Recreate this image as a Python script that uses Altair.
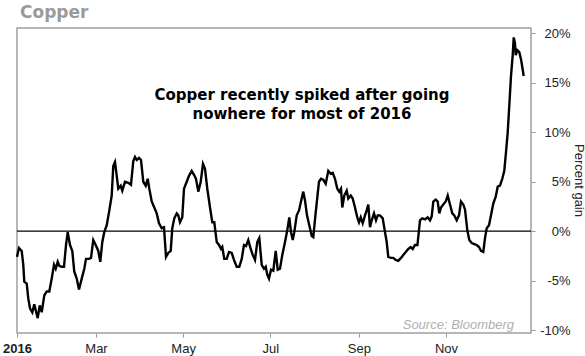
import altair as alt
import pandas as pd

# Day of 2016 (0 = Jan 1) and percent gain
day = [4.7, 6.1, 8.0, 9.1, 9.8, 11.5, 12.6, 13.8, 15.4, 16.8, 18.0, 19.2, 20.6, 22.0, 23.8, 25.5, 27.3, 29.0, 30.6, 31.8,
       33.2, 34.3, 36.0, 37.6, 39.0, 40.2, 41.8, 43.4, 44.8, 46.5, 48.1, 50.0, 51.8, 53.0, 55.1, 56.5, 58.1, 59.8, 61.6, 63.0,
       64.4, 65.8, 67.5, 69.1, 71.0, 72.1, 73.3, 74.5, 75.6, 77.3, 78.4, 80.3, 82.6, 84.5, 86.1, 87.3, 88.5, 90.1, 91.5, 93.1,
       94.8, 96.2, 97.3, 99.0, 100.8, 102.5, 104.1, 106.0, 107.6, 109.0, 110.6, 112.3, 113.4, 114.8, 116.5, 117.6, 118.8, 120.4,
       121.6, 123.5, 125.1, 127.0, 128.6, 130.0, 131.6, 133.3, 134.9, 136.3, 137.9, 139.8, 141.4, 142.8, 144.5, 146.1, 147.5,
       148.4, 149.8, 151.5, 153.1, 155.0, 156.6, 158.5, 160.3, 162.0, 163.6, 165.0, 166.6, 168.3, 169.7, 171.3, 172.9, 174.3,
       176.0, 177.6, 178.8, 179.9, 181.1, 182.5, 184.1, 185.8, 187.2, 188.8, 190.4, 192.3, 193.9, 195.3, 196.5, 197.7, 198.8,
       200.5, 202.1, 203.5, 205.1, 206.3, 207.7, 209.3, 211.0, 212.1, 213.8, 215.2, 216.1, 217.5, 219.1, 220.8, 222.6, 224.3,
       225.7, 227.3, 228.9, 230.3, 231.5, 232.4, 233.8, 235.5, 236.6, 238.3, 239.7, 241.3, 242.9, 244.1, 245.3, 246.7, 248.3,
       249.5, 250.6, 251.8, 253.0, 254.6, 256.0, 257.2, 258.8, 260.7, 262.3, 263.5, 264.6, 266.5, 268.1, 269.8, 271.6, 273.5,
       275.1, 276.8, 278.6, 280.3, 281.7, 283.3, 285.0, 286.8, 288.4, 290.3, 292.2, 293.8, 295.0, 296.1, 297.8, 299.2, 300.3,
       301.5, 303.1, 304.8, 306.2, 307.8, 309.4, 310.8, 312.5, 314.1, 315.5, 317.1, 318.3, 319.9, 321.3, 323.0, 324.8, 326.5,
       328.1, 329.5, 331.1, 332.3, 333.5, 335.1, 336.5, 338.1, 339.8, 341.2, 342.8, 344.4, 345.8, 347.0, 348.2, 349.3, 350.5,
       351.7, 352.4, 353.3, 353.8, 354.9, 356.3, 357.5, 358.4, 359.4]
gain = [-2.6, -1.7, -2.0, -3.4, -5.1, -5.3, -6.8, -7.8, -8.2, -7.4, -8.1, -8.8, -7.5, -8.2, -6.5, -6.1, -6.1, -4.8, -3.4, -3.8,
        -3.1, -3.5, -3.6, -3.6, -1.4, -0.1, -1.4, -2.0, -4.1, -4.8, -5.9, -4.8, -3.8, -2.8, -2.8, -2.7, -0.9, -1.4, -2.0, -3.1,
        -1.1, -0.1, 0.6, 1.9, 3.6, 6.6, 7.0, 5.6, 4.3, 4.6, 4.1, 5.0, 4.9, 4.7, 7.1, 7.5, 7.2, 7.4, 7.2, 5.0,
        4.6, 5.3, 4.3, 3.0, 2.4, 1.8, 0.8, 0.3, 0.4, -2.6, -2.2, -2.0, 0.3, 1.3, 1.8, 1.6, 0.9, 1.4,
        4.3, 5.0, 5.6, 6.1, 5.7, 5.3, 4.0, 5.0, 6.8, 6.3, 4.3, 2.4, 0.9, 0.9, -1.1, -1.4, -1.8,
        -1.6, -2.8, -2.8, -2.1, -2.2, -2.9, -3.6, -3.6, -2.8, -1.4, -1.5, -0.9, -1.8, -2.4, -2.9, -1.1, -0.7,
        -3.4, -3.8, -3.6, -4.4, -4.8, -3.9, -4.0, -2.0, -3.9, -3.8, -2.4, -1.1, 0.1, 1.4, -0.1, -0.9, -0.1,
        1.6, 2.1, 3.0, 4.0, 3.1, 1.6, 0.6, -0.5, -0.6, 1.9, 3.8, 5.0, 5.3, 5.2, 4.8, 6.1, 5.8,
        5.9, 5.3, 4.3, 4.0, 4.3, 2.4, 3.6, 4.1, 3.3, 3.6, 3.3, 2.4, 1.4, 0.9, 1.4, 0.8, 1.6,
        2.1, 2.7, 0.4, 1.1, 1.8, 1.1, 1.6, 1.6, 1.3, -0.1, -1.1, -2.6, -2.7, -2.7, -2.9, -3.0, -2.7,
        -2.4, -2.1, -1.8, -1.6, -1.8, -1.4, -1.4, 1.1, 1.3, 1.2, 1.4, 1.1, 1.5, 3.0, 3.2, 3.0, 1.8,
        2.4, 2.7, 3.0, 3.6, 2.7, 1.8, 1.6, 1.1, 1.6, 3.0, 2.7, 2.2, 0.1, -0.9, -1.2, -1.3, -1.4,
        -1.6, -2.0, -2.1, -0.7, 0.3, 0.6, 1.6, 2.8, 3.5, 4.5, 4.6, 5.3, 6.1, 8.0, 10.0, 12.7, 15.7,
        17.8, 19.6, 19.0, 17.8, 18.3, 18.1, 17.4, 16.6, 15.7]

tick_days = [4.7, 60, 121, 182, 244, 305]
tick_names = ["2016", "Mar", "May", "Jul", "Sep", "Nov"]
y_ticks = [-10, -5, 0, 5, 10, 15, 20]

title_text = "Copper"
note_text = "Copper recently spiked after going\nnowhere for most of 2016"
source_text = "Source: Bloomberg"

df = pd.DataFrame({"day": day, "gain": gain})

label_expr = (
    "datum.value < 30 ? '2016' : datum.value < 90 ? 'Mar' : datum.value < 150 ? 'May' : "
    "datum.value < 210 ? 'Jul' : datum.value < 270 ? 'Sep' : 'Nov'"
)

x_enc = alt.X(
    "day:Q",
    scale=alt.Scale(domain=[4.7, 364.5], nice=False, zero=False),
    axis=alt.Axis(
        values=tick_days, labelExpr=label_expr, title=None, grid=False, domain=False,
        tickColor="#999999", tickSize=4, tickWidth=1, labelPadding=5,
        labelFont="Liberation Sans", labelFontSize=13, labelColor="#222222",
        labelFontWeight=alt.condition("datum.value < 30", alt.value("bold"), alt.value("normal")),
        labelOverlap=False, labelFlush=False,
    ),
)
y_enc = alt.Y(
    "gain:Q",
    scale=alt.Scale(domain=[-10.3, 20.55], nice=False, zero=False),
    axis=alt.Axis(
        orient="right", values=y_ticks, labelExpr="datum.value + '%'", grid=False, domain=False,
        tickColor="#999999", tickSize=4, labelPadding=35, labelAlign="right",
        labelFont="Liberation Sans", labelFontSize=13, labelColor="#222222",
        title="Percent gain", titleFont="Liberation Sans", titleFontSize=13, titleFontWeight="normal",
        titleColor="#222222", titleAngle=90, titleX=43, titleY=152, titleAlign="center",
        titleBaseline="alphabetic",
    ),
)

line = alt.Chart(df).mark_line(color="black", strokeWidth=2.4).encode(x=x_enc, y=y_enc)

zero = alt.Chart(pd.DataFrame({"gain": [0]})).mark_rule(color="black", strokeWidth=1.3).encode(y="gain:Q")

title = alt.Chart(pd.DataFrame({"t": [title_text]})).mark_text(
    align="left", baseline="alphabetic", font="DejaVu Sans", fontSize=17, fontWeight="bold", color="#9a9a9a"
).encode(text="t:N", x=alt.value(3), y=alt.value(-10))

note = alt.Chart(pd.DataFrame({"t": [note_text]})).mark_text(
    align="center", baseline="alphabetic", font="DejaVu Sans", fontSize=15, fontWeight="bold",
    color="black", lineBreak="\n", lineHeight=19
).encode(text="t:N", x=alt.value(285), y=alt.value(72))

source = alt.Chart(pd.DataFrame({"t": [source_text]})).mark_text(
    align="right", baseline="alphabetic", font="Liberation Sans", fontSize=13, fontStyle="italic", color="#b0b0b0"
).encode(text="t:N", x=alt.value(497), y=alt.value(301))

chart = alt.layer(zero, line, title, note, source).properties(
    width=514, height=305,
    autosize=alt.AutoSizeParams(type="none"),
    padding={"left": 17, "top": 28, "right": 54, "bottom": 23},
    background="white",
).configure_view(stroke="#a0a0a0", strokeWidth=1.5)

chart.save("out.html", embed_options={"renderer": "svg", "actions": False})
